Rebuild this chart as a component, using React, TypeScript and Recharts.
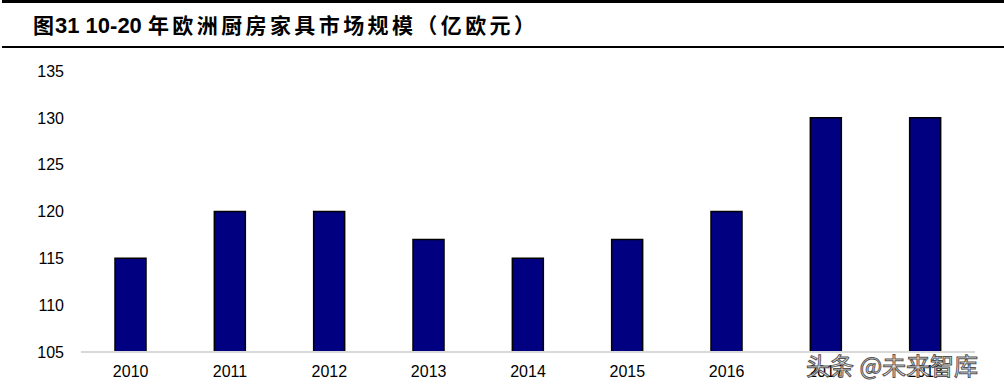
import React from 'react'
import { BarChart, Bar, XAxis, YAxis } from 'recharts'

const years = ['2010', '2011', '2012', '2013', '2014', '2015', '2016', '2017', '2018']
const marketSize = [115, 120, 120, 117, 115, 117, 120, 130, 130]
const yTicks = [105, 110, 115, 120, 125, 130, 135]

const data = years.map((year, i) => ({ year, value: marketSize[i] }))

const WATERMARK = '头条 @未来智库'

const cjk = '"Noto Sans CJK SC", sans-serif'
const latin = '"Liberation Sans", Arial, sans-serif'

export default function App() {
  return (
    <div style={{ position: 'absolute', left: 0, top: 0, width: 1004, height: 390, background: '#fff', overflow: 'hidden' }}>
      <div style={{ position: 'absolute', left: 2, right: 0, top: 0, height: 3, background: '#000' }} />
      <div
        style={{
          position: 'absolute',
          left: 33,
          top: 9,
          fontWeight: 'bold',
          fontSize: 21,
          lineHeight: '30px',
          color: '#000',
          whiteSpace: 'nowrap',
        }}
      >
        <span style={{ fontFamily: cjk }}>图</span>
        <span style={{ fontFamily: latin, fontSize: 22, marginLeft: 1 }}>31 10-20 </span>
        <span style={{ fontFamily: cjk, letterSpacing: 3.4 }}>年欧洲厨房家具市场规模（亿欧元）</span>
      </div>
      <div style={{ position: 'absolute', left: 2, right: 0, top: 46, height: 2, background: '#000' }} />

      <div style={{ position: 'absolute', left: 0, top: 0 }}>
        <BarChart
          width={1004}
          height={390}
          data={data}
          margin={{ top: 71, right: 29, bottom: 0, left: 0 }}
          barCategoryGap={0}
        >
          <XAxis
            dataKey="year"
            height={38}
            tickLine={false}
            tickSize={0}
            tickMargin={14}
            axisLine={{ stroke: '#d9d9d9', strokeWidth: 2 }}
            tick={{ fill: '#000', fontSize: 16, fontFamily: latin }}
            interval={0}
          />
          <YAxis
            width={81}
            domain={[105, 135]}
            ticks={yTicks}
            allowDataOverflow
            axisLine={false}
            tickLine={false}
            tickSize={0}
            tickMargin={17}
            tick={{ fill: '#000', fontSize: 16, fontFamily: latin }}
          />
          <Bar dataKey="value" fill="#000080" stroke="#000" strokeWidth={1.5} barSize={31} isAnimationActive={false} />
        </BarChart>
      </div>

      <div
        style={{
          position: 'absolute',
          left: 806,
          top: 349,
          fontFamily: cjk,
          fontSize: 24,
          lineHeight: '32px',
          color: '#f4f4f4',
          WebkitTextStroke: '1px #555',
          whiteSpace: 'nowrap',
        }}
      >
        {WATERMARK}
      </div>
    </div>
  )
}
